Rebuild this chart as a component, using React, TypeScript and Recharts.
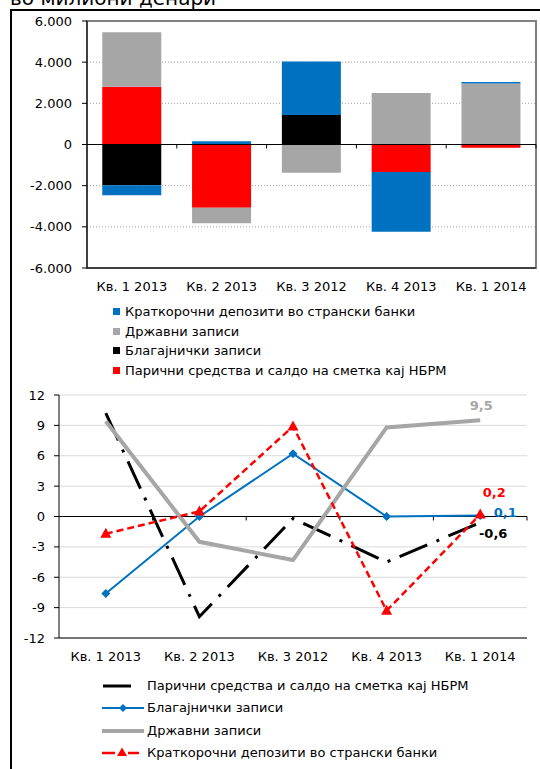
import React from "react"
import {
  BarChart, Bar, ComposedChart, Line, XAxis, YAxis, CartesianGrid, ReferenceLine, ReferenceArea, LabelList,
} from "recharts"

const FONT = "'DejaVu Sans', Verdana, sans-serif"

// categories (the "Кв. 3 2012" typo is in the original)
const categories = ["Кв. 1 2013", "Кв. 2 2013", "Кв. 3 2012", "Кв. 4 2013", "Кв. 1 2014"]

// top chart, million denars
const barCash     = [2810, -3070, -30, -1330, -160]   // Парични средства и салдо на сметка кај НБРМ
const barTreasury = [-1980, 0, 1430, 0, 0]            // Благајнички записи
const barGov      = [2640, -750, -1340, 2500, 2960]   // Државни записи
const barDeposits = [-490, 160, 2600, -2910, 80]      // Краткорочни депозити во странски банки
const barTicks    = [-6000, -4000, -2000, 0, 2000, 4000, 6000]

// bottom chart
const lineCash     = [10.2, -9.9, -0.2, -4.5, -0.6]
const lineTreasury = [-7.6, 0, 6.2, 0, 0.1]
const lineGov      = [9.4, -2.5, -4.3, 8.8, 9.5]
const lineDeposits = [-1.7, 0.5, 8.9, -9.3, 0.2]
const lineTicks    = [-12, -9, -6, -3, 0, 3, 6, 9, 12]

const BLUE = "#0070c0"
const GRAY = "#a6a6a6"
const RED  = "#ff0000"

const barData = categories.map((name, i) => ({
  name, cash: barCash[i], treasury: barTreasury[i], gov: barGov[i], deposits: barDeposits[i],
}))

const lineData = categories.map((name, i) => ({
  name, cash: lineCash[i], treasury: lineTreasury[i], gov: lineGov[i], deposits: lineDeposits[i],
}))

const fmtThousands = (v: number) => {
  const s = Math.abs(v).toString().replace(/\B(?=(\d{3})+(?!\d))/g, ".")
  return v < 0 ? "-" + s : s
}
const fmtComma = (v: number) => String(v).replace(".", ",")

const tickStyle = { fontSize: 13, fill: "#000", fontFamily: FONT }

// line chart: plot is 468px wide, half a category of padding on each side
const LINE_PAD = 468 / categories.length / 2

// zero line with the small category-boundary ticks under it
function ZeroLine(props: any) {
  const { x1, x2, y1 } = props
  const step = (x2 - x1) / categories.length
  return (
    <g>
      <line x1={x1} x2={x2} y1={y1} y2={y1} stroke="#000" strokeWidth={1} />
      {categories.map((_, i) => (
        <line key={i} x1={x1 + step * (i + 1)} x2={x1 + step * (i + 1)} y1={y1} y2={y1 + 4} stroke="#000" />
      ))}
    </g>
  )
}

const Diamond = (props: any) => {
  const { cx, cy, index } = props
  if (cx == null || cy == null) return <g key={index} />
  const r = 4.5
  return <path key={index} d={`M${cx},${cy - r}L${cx + r},${cy}L${cx},${cy + r}L${cx - r},${cy}Z`} fill={BLUE} />
}

const Triangle = (props: any) => {
  const { cx, cy, index } = props
  if (cx == null || cy == null) return <g key={index} />
  return <path key={index} d={`M${cx},${cy - 6}L${cx + 5.5},${cy + 4}L${cx - 5.5},${cy + 4}Z`} fill={RED} />
}

const lastLabel = (color: string, dx: number, dy: number) => (p: any) => {
  if (p.index !== categories.length - 1) return null
  return (
    <text x={p.x + dx} y={p.y + dy} fill={color} fontSize={13} fontWeight="bold" fontFamily={FONT}
      textAnchor="middle" dominantBaseline="central">
      {fmtComma(Number(p.value))}
    </text>
  )
}

const barLegend = [
  { label: "Краткорочни депозити во странски банки", color: BLUE },
  { label: "Државни записи", color: GRAY },
  { label: "Благајнички записи", color: "#000" },
  { label: "Парични средства и салдо на сметка кај НБРМ", color: RED },
]
const barLegendRows = [312, 332, 351, 371]

const lineLegend = [
  "Парични средства и салдо на сметка кај НБРМ",
  "Благајнички записи",
  "Државни записи",
  "Краткорочни депозити во странски банки",
]
const lineLegendRows = [686, 708, 731, 753]

function LineSwatch({ i }: { i: number }) {
  return (
    <svg width={46} height={12} style={{ position: "absolute", left: 100, top: 0 }}>
      {i === 0 && <line x1={3} x2={31} y1={6} y2={6} stroke="#000" strokeWidth={3} />}
      {i === 1 && (
        <g>
          <line x1={2} x2={44} y1={6} y2={6} stroke={BLUE} strokeWidth={2} />
          <path d="M23,2L27,6L23,10L19,6Z" fill={BLUE} />
        </g>
      )}
      {i === 2 && <line x1={2} x2={44} y1={6} y2={6} stroke={GRAY} strokeWidth={4} />}
      {i === 3 && (
        <g>
          <line x1={2} x2={15} y1={6} y2={6} stroke={RED} strokeWidth={2.5} />
          <line x1={28} x2={39} y1={6} y2={6} stroke={RED} strokeWidth={2.5} />
          <path d="M22,0.5L27,9L17,9Z" fill={RED} />
        </g>
      )}
    </svg>
  )
}

export default function App() {
  return (
    <div style={{ position: "absolute", left: 0, top: 0, width: 540, height: 769, overflow: "hidden", background: "#fff", fontFamily: FONT }}>
      <svg width={540} height={12} style={{ position: "absolute", left: 0, top: 0 }}>
        <text x={10} y={5} fontSize={20} fontFamily={FONT} fill="#000">во милиони денари</text>
      </svg>
      <div style={{ position: "absolute", left: 10, top: 9, width: 600, height: 800, border: "2px solid #000" }} />

      <div style={{ position: "absolute", left: 0, top: 0 }}>
        <BarChart width={540} height={300} data={barData} stackOffset="sign" barCategoryGap="17%"
          margin={{ top: 21, right: 4, left: 0, bottom: 2 }}>
          <CartesianGrid vertical={false} stroke="#a0a0a0" strokeDasharray="1 2" />
          <ReferenceArea y1={-6000} y2={6000} fill="none" stroke="#808080" strokeWidth={2} ifOverflow="visible" />
          <XAxis dataKey="name" interval={0} tickLine={false} axisLine={{ stroke: "#000" }} tick={tickStyle} tickMargin={8} height={30} />
          <YAxis domain={[-6000, 6000]} ticks={barTicks} tickFormatter={fmtThousands} width={87} tick={tickStyle}
            tickSize={5} tickMargin={10} tickLine={{ stroke: "#000" }} axisLine={{ stroke: "#000" }} />
          <Bar dataKey="cash" stackId="a" fill={RED} isAnimationActive={false} />
          <Bar dataKey="treasury" stackId="a" fill="#000" isAnimationActive={false} />
          <Bar dataKey="gov" stackId="a" fill={GRAY} isAnimationActive={false} />
          <Bar dataKey="deposits" stackId="a" fill={BLUE} isAnimationActive={false} />
          <ReferenceLine y={0} shape={ZeroLine} />
        </BarChart>
      </div>

      {barLegend.map((it, i) => (
        <div key={it.label} style={{ position: "absolute", left: 113, top: barLegendRows[i] - 10, height: 20, lineHeight: "20px", fontSize: 13, whiteSpace: "nowrap" }}>
          <span style={{ position: "absolute", left: 0, top: 6, width: 7, height: 7, background: it.color }} />
          <span style={{ position: "absolute", left: 12, top: 0 }}>{it.label}</span>
        </div>
      ))}

      <div style={{ position: "absolute", left: 0, top: 380 }}>
        <ComposedChart width={540} height={300} data={lineData} margin={{ top: 15, right: 13, left: 0, bottom: 12 }}>
          <CartesianGrid vertical={false} stroke="#d9d9d9" />
          <XAxis dataKey="name" interval={0} padding={{ left: LINE_PAD, right: LINE_PAD }} tickLine={false}
            axisLine={{ stroke: "#000" }} tick={tickStyle} tickMargin={8} height={30} />
          <XAxis xAxisId="frame" orientation="top" dataKey="name" height={0} tick={false} tickLine={false} axisLine={{ stroke: "#000" }} />
          <YAxis domain={[-12, 12]} ticks={lineTicks} width={59} tick={tickStyle}
            tickSize={5} tickMargin={9} tickLine={{ stroke: "#000" }} axisLine={{ stroke: "#000" }} />
          <YAxis yAxisId="frame" orientation="right" domain={[-12, 12]} width={0} tick={false} tickLine={false} axisLine={{ stroke: "#000" }} />
          <ReferenceLine y={0} shape={ZeroLine} />
          <Line dataKey="cash" stroke="#000" strokeWidth={3} strokeDasharray="30 10 3 10" dot={false} isAnimationActive={false}>
            <LabelList dataKey="cash" content={lastLabel("#000", 13, 11)} />
          </Line>
          <Line dataKey="treasury" stroke={BLUE} strokeWidth={2} dot={Diamond} isAnimationActive={false}>
            <LabelList dataKey="treasury" content={lastLabel(BLUE, 25, -3)} />
          </Line>
          <Line dataKey="gov" stroke={GRAY} strokeWidth={4} dot={false} isAnimationActive={false}>
            <LabelList dataKey="gov" content={lastLabel(GRAY, 1, -15)} />
          </Line>
          <Line dataKey="deposits" stroke={RED} strokeWidth={2.5} strokeDasharray="7 4" dot={Triangle} isAnimationActive={false}>
            <LabelList dataKey="deposits" content={lastLabel(RED, 14, -22)} />
          </Line>
        </ComposedChart>
      </div>

      {lineLegend.map((label, i) => (
        <div key={label} style={{ position: "absolute", left: 0, top: lineLegendRows[i] - 10, width: 540, height: 20, lineHeight: "20px", fontSize: 13, whiteSpace: "nowrap" }}>
          <div style={{ position: "absolute", left: 0, top: 4, width: 150, height: 12 }}><LineSwatch i={i} /></div>
          <span style={{ position: "absolute", left: 147, top: 0 }}>{label}</span>
        </div>
      ))}
    </div>
  )
}
